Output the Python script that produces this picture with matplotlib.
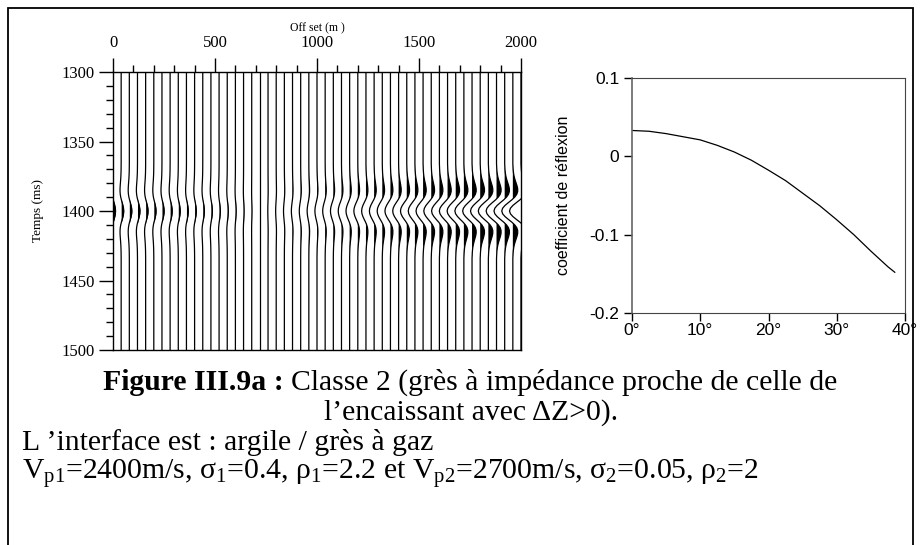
import numpy as np
import matplotlib
matplotlib.use("Agg")
from matplotlib import pyplot as plt
from matplotlib.patches import Rectangle
from matplotlib.ticker import MultipleLocator, FuncFormatter

plt.rcParams['mathtext.fontset'] = 'custom'
plt.rcParams['mathtext.rm'] = 'Liberation Serif'
plt.rcParams['mathtext.it'] = 'Liberation Serif:italic'
plt.rcParams['mathtext.bf'] = 'Liberation Serif:bold'

# --- seismic gather (NMO corrected), one trace every 40 m
offsets = np.arange(0, 2001, 40)
trace_amp = [0.033, 0.033, 0.0325, 0.032, 0.031, 0.029, 0.028, 0.027, 0.025, 0.024,
             0.022, 0.021, 0.019, 0.016, 0.013, 0.009, 0.006, 0.003, 0.000, -0.003,
             -0.007, -0.011, -0.015, -0.018, -0.022, -0.027, -0.032, -0.037, -0.042, -0.047,
             -0.051, -0.056, -0.061, -0.066, -0.071, -0.076, -0.081, -0.086, -0.091, -0.096,
             -0.101, -0.106, -0.111, -0.116, -0.121, -0.125, -0.130, -0.134, -0.138, -0.143,
             -0.148]
event_time = 1400
# half wavelet, 2 ms samples from 0 to 32 ms
wavelet_half = [1.0, 0.922, 0.707, 0.409, 0.095, -0.172, -0.353, -0.437, -0.438,
                -0.383, -0.301, -0.216, -0.143, -0.088, -0.051, -0.027, -0.014]

# --- reflection coefficient vs incidence angle
angles = [0, 2.5, 5, 7.5, 10, 12.5, 15, 17.5, 20, 22.5, 25, 27.5, 30, 32.5, 35, 37.5, 38.5]
refl = [0.033, 0.032, 0.029, 0.025, 0.021, 0.014, 0.0055, -0.005, -0.0177, -0.031,
        -0.047, -0.063, -0.081, -0.100, -0.121, -0.141, -0.148]

W, H = 921, 545
fig = plt.figure(figsize=(W / 100, H / 100), dpi=100)

# outer frame
fig.patches.append(Rectangle((8 / W, -0.02), 905 / W, 1.02 - 8 / H, transform=fig.transFigure,
                             fill=False, lw=1.3, ec='k'))

serif = 'Liberation Serif'
sans = 'Liberation Sans'

# ---------------- seismic panel
ax = fig.add_axes([113 / W, (H - 350) / H, 408 / W, 278 / H])
times = np.arange(1300, 1501, 2)
wav = np.array(wavelet_half[::-1] + wavelet_half[1:])
i0 = int((event_time - 1300) / 2) - (len(wavelet_half) - 1)
gain = 380.0
for x0, a in zip(offsets, trace_amp):
    tr = np.zeros(len(times))
    tr[i0:i0 + len(wav)] = a * wav
    d = tr * gain
    ax.plot(x0 + d, times, color='k', lw=0.9)
    ax.fill_betweenx(times, x0, x0 + d, where=d > 0, color='k', lw=0, interpolate=True)

ax.set_xlim(0, 2000)
ax.set_ylim(1500, 1300)
ax.xaxis.tick_top()
ax.xaxis.set_label_position('top')
ax.xaxis.set_major_locator(MultipleLocator(500))
ax.xaxis.set_minor_locator(MultipleLocator(100))
ax.yaxis.set_major_locator(MultipleLocator(50))
ax.yaxis.set_minor_locator(MultipleLocator(10))
ax.tick_params(which='major', length=10, width=1, direction='out', labelsize=12, pad=3)
ax.tick_params(which='minor', length=5, width=1, direction='out')
ax.tick_params(axis='x', which='major', pad=5)
for lab in ax.get_xticklabels() + ax.get_yticklabels():
    lab.set_family(serif)
ax.set_xlabel('Off set (m )', family=serif, fontsize=8.5, labelpad=3)
ax.set_ylabel('Temps (ms)', family=serif, fontsize=9.5, labelpad=13)
for s in ax.spines.values():
    s.set_linewidth(1)

# ---------------- reflection coefficient panel
ax2 = fig.add_axes([632 / W, (H - 313) / H, 273 / W, 235 / H])
ax2.plot(angles, refl, color='k', lw=0.9)
ax2.set_xlim(0, 40)
ax2.set_ylim(-0.2, 0.1)
ax2.set_xticks([0, 10, 20, 30, 40])
ax2.set_yticks([-0.2, -0.1, 0, 0.1])
ax2.xaxis.set_major_formatter(FuncFormatter(lambda v, p: f"{v:.0f}°"))
ax2.yaxis.set_major_formatter(FuncFormatter(lambda v, p: "0" if abs(v) < 1e-9 else f"{v:.1f}"))
ax2.tick_params(length=6, width=1, direction='out', labelsize=12.5, pad=3)
ax2.tick_params(axis='x', pad=1)
for lab in ax2.get_xticklabels() + ax2.get_yticklabels():
    lab.set_family(sans)
ax2.set_ylabel('coefficient de réflexion', family=sans, fontsize=11.5, labelpad=13)
for s in ax2.spines.values():
    s.set_linewidth(0.8)
    s.set_color('#444444')
ax2.spines['left'].set_color('#666666')
ax2.spines['left'].set_linewidth(1.2)

# ---------------- caption
fs = 21.4
r = fig.canvas.get_renderer()
y1 = 1 - 382 / H
t1 = fig.text(0, y1, 'Figure III.9a : ', family=serif, fontweight='bold', fontsize=fs, va='center')
t2 = fig.text(0, y1, 'Classe 2 (grès à impédance proche de celle de', family=serif,
              fontsize=fs, va='center')
w1 = t1.get_window_extent(r).width
w2 = t2.get_window_extent(r).width
start = 470 - (w1 + w2) / 2
t1.set_x(start / W)
t2.set_x((start + w1) / W)

fig.text(471 / W, 1 - 413 / H, 'l’encaissant avec ΔZ>0).', family=serif, fontsize=fs,
         ha='center', va='center')
fig.text(22 / W, 1 - 443 / H, 'L ’interface est : argile / grès à gaz', family=serif,
         fontsize=fs, va='center')
fig.text(22 / W, 1 - 474 / H,
         r'V$_{\rm p1}$=2400m/s, σ$_{\rm 1}$=0.4, ρ$_{\rm 1}$=2.2 et V$_{\rm p2}$=2700m/s, '
         r'σ$_{\rm 2}$=0.05, ρ$_{\rm 2}$=2',
         family=serif, fontsize=fs, va='center')

fig.savefig('out.png', dpi=100)
